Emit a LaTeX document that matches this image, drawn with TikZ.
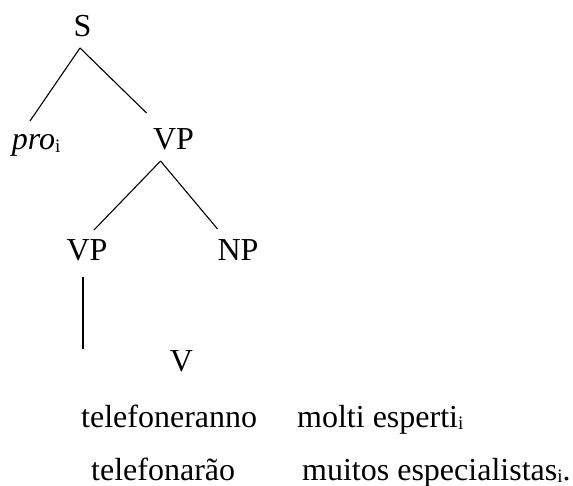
\documentclass[tikz,border=0pt]{standalone}
\usepackage{fontspec}
\setmainfont{Liberation Serif}
\usetikzlibrary{calc}
% lowered index letter
\newcommand\idx{\raisebox{-2.5pt}{\fontsize{19}{19}\selectfont i}}
\begin{document}
\begin{tikzpicture}[x=1pt,y=-1pt,
  lab/.style={font=\fontsize{32}{36}\selectfont, inner sep=0pt, outer sep=0pt,
              text height=21pt, text depth=0pt, anchor=base},
  words/.style={font=\fontsize{32}{36}\selectfont, inner sep=0pt, anchor=base west},
  branch/.style={line width=1.1pt, line cap=butt}]
\useasboundingbox (0,0) rectangle (573,486);

% category labels
\node[lab] (S)   at (82.5,36.5)  {S};
\node[lab] (pro) at (33.5,150) {\textit{pro}\rlap{\idx}};
\node[lab] (VPa) at (173.5,150) {VP};
\node[lab] (VPb) at (87,261)   {VP};
\node[lab] (NP)  at (238,261)  {NP};
\node[lab] (V)   at (181.5,371.5)  {V};

% terminal strings
\node[words] (it1) at (81,427)  {telefoneranno};
\node[words] (it2) at (297,427) {molti esperti\idx};
\node[words] (pt1) at (91,480)  {telefonarão};
\node[words] (pt2) at (302,480) {muitos especialistas\idx.};

% branches
\draw[branch] ([xshift=-2.5pt,yshift=-11.5pt]S.south) -- ([xshift=-3.5pt,yshift=8pt]pro.north);
\draw[branch] ([xshift=-2.5pt,yshift=-11.5pt]S.south) -- ([xshift=-6.5pt,yshift=16pt]VPa.north west);
\draw[branch] ([xshift=7.5pt,yshift=-11pt]VPa.south west) -- ([xshift=7pt,yshift=10pt]VPb.north);
\draw[branch] ([xshift=7.5pt,yshift=-11pt]VPa.south west) -- ([yshift=11pt]NP.north west);
\coordinate (stem) at (83,349);
\draw[branch] ([xshift=-4pt,yshift=-16pt]VPb.south) -- (stem);
\end{tikzpicture}
\end{document}
